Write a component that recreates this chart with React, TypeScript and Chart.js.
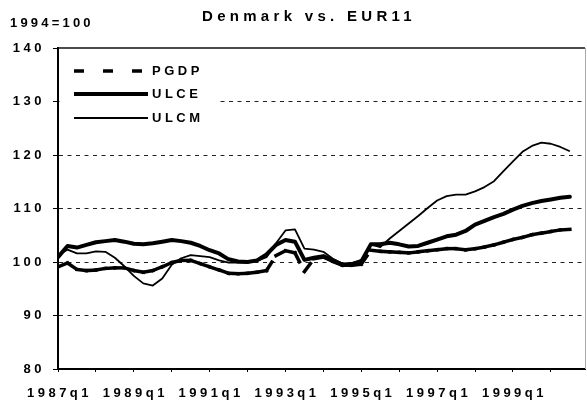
import React, { useEffect, useRef } from 'react';
import { Chart, registerables } from 'chart.js';

Chart.register(...registerables);

const TITLE = 'Denmark vs. EUR11';
const UNIT = '1994=100';

const QUARTERS = [
  '1987q1', '1987q2', '1987q3', '1987q4', '1988q1', '1988q2', '1988q3', '1988q4',
  '1989q1', '1989q2', '1989q3', '1989q4', '1990q1', '1990q2', '1990q3', '1990q4',
  '1991q1', '1991q2', '1991q3', '1991q4', '1992q1', '1992q2', '1992q3', '1992q4',
  '1993q1', '1993q2', '1993q3', '1993q4', '1994q1', '1994q2', '1994q3', '1994q4',
  '1995q1', '1995q2', '1995q3', '1995q4', '1996q1', '1996q2', '1996q3', '1996q4',
  '1997q1', '1997q2', '1997q3', '1997q4', '1998q1', '1998q2', '1998q3', '1998q4',
  '1999q1', '1999q2', '1999q3', '1999q4', '2000q1', '2000q2', '2000q3',
];

const PGDP = [
  99.1, 99.8, 98.6, 98.4, 98.5, 98.8, 98.9, 98.9, 98.4, 98.1,
  98.4, 99.1, 99.9, 100.3, 100.3, 99.7, 99.1, 98.5, 97.9, 97.8,
  97.9, 98.1, 98.4, 101.2, 102.1, 101.7, 98.2, 100.6, 100.9, 100.1,
  99.4, 99.4, 99.6, 102.2, 102.0, 101.9, 101.8, 101.7, 101.9, 102.1,
  102.3, 102.5, 102.5, 102.3, 102.5, 102.8, 103.2, 103.7, 104.2, 104.6,
  105.1, 105.4, 105.7, 106.0, 106.1,
];

const ULCE = [
  100.9, 103.0, 102.7, 103.2, 103.7, 103.9, 104.1, 103.8, 103.4, 103.3,
  103.5, 103.8, 104.1, 103.9, 103.6, 103.0, 102.2, 101.6, 100.5, 100.1,
  100.0, 100.3, 101.4, 103.2, 104.1, 103.8, 100.4, 100.8, 101.1, 100.3,
  99.5, 99.6, 100.1, 103.3, 103.3, 103.6, 103.3, 102.9, 103.0, 103.6,
  104.2, 104.8, 105.1, 105.8, 107.0, 107.7, 108.4, 109.0, 109.8, 110.5,
  111.0, 111.4, 111.7, 112.0, 112.2,
];

const ULCM = [
  101.3, 102.3, 101.6, 101.6, 102.0, 101.9, 100.8, 99.2, 97.4, 96.0,
  95.6, 96.9, 99.5, 100.7, 101.3, 101.1, 100.9, 100.3, 99.9, 99.9,
  99.9, 100.2, 100.9, 103.5, 105.9, 106.1, 102.5, 102.3, 101.9, 100.6,
  99.7, 99.8, 100.4, 103.3, 102.8, 104.4, 105.8, 107.2, 108.6, 110.1,
  111.5, 112.3, 112.6, 112.6, 113.2, 114.0, 115.1, 117.0, 118.8, 120.6,
  121.7, 122.3, 122.1, 121.5, 120.7,
];

const Y_TICKS = [80, 90, 100, 110, 120, 130, 140];
const X_TICK_EVERY = 4;
const X_LABEL_EVERY = 8;

const FAMILY = '"Liberation Sans", Arial, sans-serif';
const PGDP_DASH = [10, 19];

const spacingPlugin = {
  id: 'letterSpacing',
  beforeUpdate(chart: any) {
    chart.ctx.letterSpacing = '3.5px';
  },
  beforeDraw(chart: any) {
    chart.ctx.letterSpacing = '3.5px';
  },
};

const decorPlugin = {
  id: 'decor',
  beforeDatasetsDraw(chart: any) {
    const { ctx, chartArea: a } = chart;
    ctx.save();
    ctx.setLineDash([]);
    ctx.strokeStyle = '#111';
    ctx.lineWidth = 1.5;
    ctx.beginPath();
    ctx.moveTo(a.left, a.top);
    ctx.lineTo(a.right, a.top);
    ctx.stroke();
    ctx.strokeStyle = '#aaa';
    ctx.lineWidth = 1;
    ctx.beginPath();
    ctx.moveTo(a.right + 0.5, a.top);
    ctx.lineTo(a.right + 0.5, a.bottom);
    ctx.stroke();
    ctx.restore();
  },
  afterDatasetsDraw(chart: any) {
    const { ctx, chartArea: a } = chart;
    ctx.save();
    ctx.fillStyle = '#fff';
    ctx.fillRect(a.left + 1.5, a.top + 8, 160, 76);
    const rows = [23, 46, 70];
    chart.data.datasets.forEach((ds: any, i: number) => {
      const y = a.top + rows[i];
      ctx.strokeStyle = '#000';
      ctx.lineWidth = ds.borderWidth;
      ctx.lineCap = 'butt';
      ctx.setLineDash(ds.label === 'PGDP' ? PGDP_DASH : []);
      ctx.beginPath();
      ctx.moveTo(a.left + 16, y);
      ctx.lineTo(a.left + 90, y);
      ctx.stroke();
      ctx.setLineDash([]);
      ctx.fillStyle = '#000';
      ctx.font = `bold 13px ${FAMILY}`;
      ctx.letterSpacing = '3.5px';
      ctx.textAlign = 'left';
      ctx.textBaseline = 'middle';
      ctx.fillText(ds.label, a.left + 94, y);
    });
    ctx.restore();
  },
  afterDraw(chart: any) {
    const { ctx } = chart;
    ctx.save();
    ctx.fillStyle = '#000';
    ctx.textBaseline = 'middle';
    ctx.textAlign = 'left';
    ctx.font = `bold 15px ${FAMILY}`;
    ctx.letterSpacing = '4.3px';
    ctx.fillText(TITLE, 202, 17);
    ctx.font = `bold 13px ${FAMILY}`;
    ctx.letterSpacing = '3.2px';
    ctx.fillText(UNIT, 10, 23);
    ctx.restore();
  },
};

export default function App() {
  const ref = useRef<HTMLCanvasElement | null>(null);

  useEffect(() => {
    const canvas = ref.current;
    if (!canvas) return;
    const toPoints = (arr: number[]) => arr.map((v, i) => ({ x: i, y: v }));
    const tickFont = { family: FAMILY, size: 13, weight: 'bold' as const };

    const chart = new Chart(canvas, {
      type: 'line',
      data: {
        datasets: [
          {
            label: 'PGDP',
            data: toPoints(PGDP),
            borderColor: '#000',
            borderWidth: 3.5,
            borderDash: PGDP_DASH,
            borderCapStyle: 'square',
            segment: {
              borderDash: () => PGDP_DASH,
              borderDashOffset: (c: any) => (c.p0DataIndex % 2 ? 0.0001 : 0),
            },
            pointRadius: 0,
            tension: 0,
            fill: false,
          },
          {
            label: 'ULCE',
            data: toPoints(ULCE),
            borderColor: '#000',
            borderWidth: 4,
            borderJoinStyle: 'round',
            borderCapStyle: 'round',
            pointRadius: 0,
            tension: 0,
            fill: false,
          },
          {
            label: 'ULCM',
            data: toPoints(ULCM),
            borderColor: '#000',
            borderWidth: 1.8,
            borderJoinStyle: 'round',
            pointRadius: 0,
            tension: 0,
            fill: false,
          },
        ],
      },
      options: {
        responsive: false,
        animation: false,
        devicePixelRatio: 1,
        events: [],
        layout: { padding: { top: 48, right: 2, left: 0, bottom: 0 } },
        plugins: {
          legend: { display: false },
          title: { display: false },
          tooltip: { enabled: false },
        },
        scales: {
          x: {
            type: 'linear',
            min: 0,
            max: 55.6,
            afterBuildTicks: (s: any) => {
              s.ticks = QUARTERS.map((_, i) => i)
                .filter((i) => i % X_TICK_EVERY === 0)
                .map((v) => ({ value: v }));
            },
            afterFit: (s: any) => {
              s.height = 38;
            },
            grid: {
              drawOnChartArea: false,
              drawTicks: true,
              tickLength: 3,
              tickColor: '#000',
              tickWidth: 1,
            },
            border: { color: '#000', width: 2 },
            ticks: {
              autoSkip: false,
              maxRotation: 0,
              minRotation: 0,
              padding: 14,
              labelOffset: 1.5,
              color: '#000',
              font: tickFont,
              callback: (v: any) => (v % X_LABEL_EVERY === 0 ? QUARTERS[v] : ''),
            },
          },
          y: {
            min: 80,
            max: 140,
            afterBuildTicks: (s: any) => {
              s.ticks = Y_TICKS.map((v) => ({ value: v }));
            },
            afterFit: (s: any) => {
              s.width = 58;
            },
            grid: {
              color: (c: any) =>
                c.tick && (c.tick.value === 80 || c.tick.value === 140) ? 'rgba(0,0,0,0)' : '#222',
              lineWidth: 1,
              drawTicks: true,
              tickLength: 5,
              tickColor: '#000',
              tickWidth: 1,
            },
            border: { color: '#000', width: 2, dash: [4, 4.5] },
            ticks: {
              padding: 8,
              color: '#000',
              font: tickFont,
            },
          },
        },
      },
      plugins: [spacingPlugin, decorPlugin],
    } as any);

    return () => chart.destroy();
  }, []);

  return (
    <div style={{ position: 'absolute', left: 0, top: 0, width: 587, height: 407, background: '#fff' }}>
      <canvas ref={ref} width={587} height={407} style={{ display: 'block' }} />
    </div>
  );
}
